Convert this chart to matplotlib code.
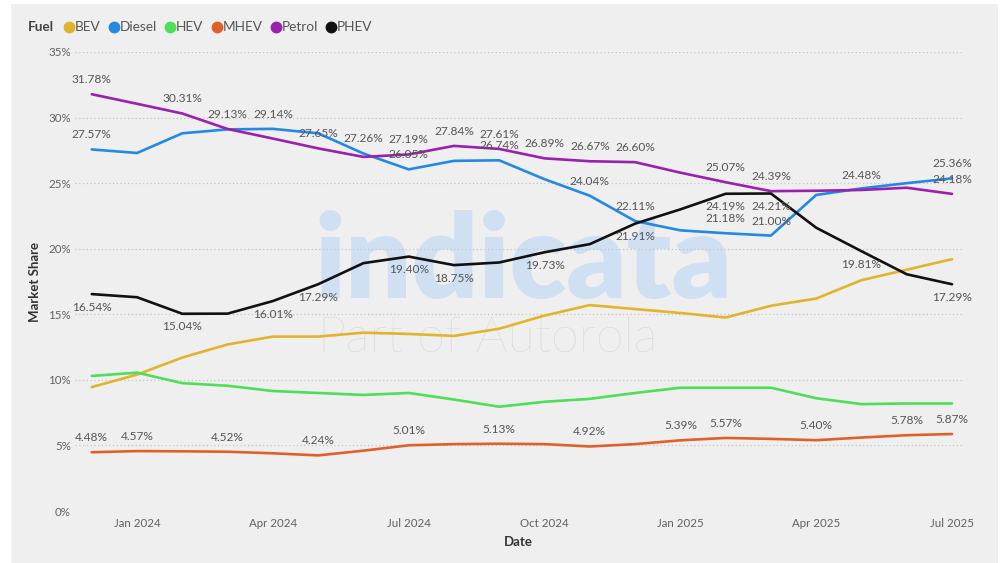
import matplotlib
matplotlib.use("Agg")
import matplotlib.pyplot as plt
from matplotlib.patches import Rectangle
from matplotlib.lines import Line2D

# ---------------- data ----------------
months = ["Dec 2023", "Jan 2024", "Feb 2024", "Mar 2024", "Apr 2024", "May 2024",
          "Jun 2024", "Jul 2024", "Aug 2024", "Sep 2024", "Oct 2024", "Nov 2024",
          "Dec 2024", "Jan 2025", "Feb 2025", "Mar 2025", "Apr 2025", "May 2025",
          "Jun 2025", "Jul 2025"]

bev = [9.45, 10.4, 11.7, 12.7, 13.3, 13.3, 13.6, 13.5, 13.35, 13.9,
       14.9, 15.7, 15.4, 15.1, 14.75, 15.65, 16.2, 17.6, 18.4, 19.2]
diesel = [27.57, 27.3, 28.8, 29.1, 29.14, 28.8, 27.26, 26.05, 26.7, 26.74,
          25.3, 24.04, 22.11, 21.4, 21.18, 21.00, 24.1, 24.6, 25.0, 25.36]
hev = [10.3, 10.55, 9.75, 9.55, 9.15, 9.0, 8.85, 9.0, 8.5, 7.95,
       8.33, 8.55, 9.0, 9.4, 9.4, 9.4, 8.6, 8.15, 8.2, 8.2]
mhev = [4.48, 4.57, 4.55, 4.52, 4.4, 4.24, 4.6, 5.01, 5.1, 5.13,
        5.1, 4.92, 5.1, 5.39, 5.57, 5.5, 5.40, 5.6, 5.78, 5.87]
petrol = [31.78, 31.05, 30.31, 29.13, 28.4, 27.65, 27.0, 27.19, 27.84, 27.61,
          26.89, 26.67, 26.60, 25.8, 25.07, 24.39, 24.42, 24.48, 24.65, 24.18]
phev = [16.54, 16.3, 15.04, 15.05, 16.01, 17.29, 18.9, 19.40, 18.75, 18.95,
        19.73, 20.35, 21.91, 23.0, 24.19, 24.21, 21.6, 19.81, 18.05, 17.29]

series_names = ["BEV", "Diesel", "HEV", "MHEV", "Petrol", "PHEV"]
series_values = [bev, diesel, hev, mhev, petrol, phev]

# which points carry a data label
label_idx = {
    "Diesel": [0, 4, 6, 7, 9, 11, 12, 14, 15, 19],
    "MHEV": [0, 1, 3, 5, 7, 9, 11, 13, 14, 16, 18, 19],
    "Petrol": [0, 2, 3, 5, 7, 8, 9, 10, 11, 12, 14, 15, 17, 19],
    "PHEV": [0, 2, 4, 5, 7, 8, 10, 12, 14, 15, 17, 19],
}

tick_labels = ["Jan 2024", "Apr 2024", "Jul 2024", "Oct 2024",
               "Jan 2025", "Apr 2025", "Jul 2025"]
y_ticks = [0, 5, 10, 15, 20, 25, 30, 35]

# ---------------- style ----------------
colors = {"BEV": "#E2B42C", "Diesel": "#2389E3", "HEV": "#4FDE5A",
          "MHEV": "#DF6128", "Petrol": "#9A20AE", "PHEV": "#111111"}
label_below = {"PHEV"}
FONT = "Lato"
plt.rcParams["font.family"] = [FONT, "DejaVu Sans"]

W, H = 1002, 563
fig = plt.figure(figsize=(W / 100, H / 100), dpi=100, facecolor="white")
fig.patches.append(Rectangle((11 / W, 0), (998 - 11) / W, (H - 4) / H,
                             transform=fig.transFigure, facecolor="#efefef",
                             edgecolor="none", zorder=-5))

ax = fig.add_axes([75 / W, (H - 511) / H, (962 - 75) / W, (511 - 52) / H])
ax.set_facecolor("none")
x = list(range(len(months)))

# watermark
ax.text(0.505, 0.54, "indicata", transform=ax.transAxes, ha="center", va="center",
        fontsize=84, fontweight="heavy", color="#cfe0f2", zorder=0, family=FONT)
ax.text(0.465, 0.375, "Part of Autorola", transform=ax.transAxes, ha="center",
        va="center", fontsize=36, fontweight="light", color="#d3d3d3", zorder=0,
        family=FONT)

for name, vals in zip(series_names, series_values):
    ax.plot(x, vals, color=colors[name], lw=1.9, solid_capstyle="round",
            solid_joinstyle="round", zorder=3, clip_on=False)
    for i in label_idx.get(name, []):
        dy = -9.5 if name in label_below else 10.5
        ax.annotate(f"{vals[i]:.2f}%", (x[i], vals[i]), xytext=(0, dy),
                    textcoords="offset points", ha="center", va="center",
                    fontsize=8.6, color="#555555", zorder=4)

ax.set_xlim(-0.37, 19.22)
ax.set_ylim(0, 35)
ax.set_yticks(y_ticks)
ax.set_yticklabels([f"{v}%" for v in y_ticks])
tick_pos = [months.index(t) for t in tick_labels]
ax.set_xticks(tick_pos)
ax.set_xticklabels(tick_labels)
ax.tick_params(axis="both", length=0, labelsize=8.3, labelcolor="#606060")
ax.tick_params(axis="y", pad=3)
ax.tick_params(axis="x", pad=5)
ax.grid(axis="y", color="#c4c4c4", linestyle=(0, (1, 2)), lw=0.9, zorder=1)
for s in ax.spines.values():
    s.set_visible(False)
ax.set_xlabel("Date", fontsize=9.5, fontweight="bold", color="#333333", labelpad=5)
ax.set_ylabel("Market Share", fontsize=9.5, fontweight="bold", color="#333333",
              labelpad=5)

# legend drawn as a row of texts
fig.canvas.draw()
renderer = fig.canvas.get_renderer()
ypos = 1 - 27 / H
t = fig.text(28 / W, ypos, "Fuel", fontsize=9.8, fontweight="bold",
             color="#444444", va="center", ha="left")
xp = t.get_window_extent(renderer).x1 + 10
for name in series_names:
    fig.add_artist(Line2D([(xp + 5) / W], [ypos], marker="o", markersize=7.5,
                          color=colors[name], transform=fig.transFigure,
                          linestyle="none"))
    tt = fig.text((xp + 11) / W, ypos, name, fontsize=9.8, color="#555555",
                  va="center", ha="left")
    xp = tt.get_window_extent(renderer).x1 + 8

fig.savefig("out.png", dpi=100, facecolor=fig.get_facecolor())
